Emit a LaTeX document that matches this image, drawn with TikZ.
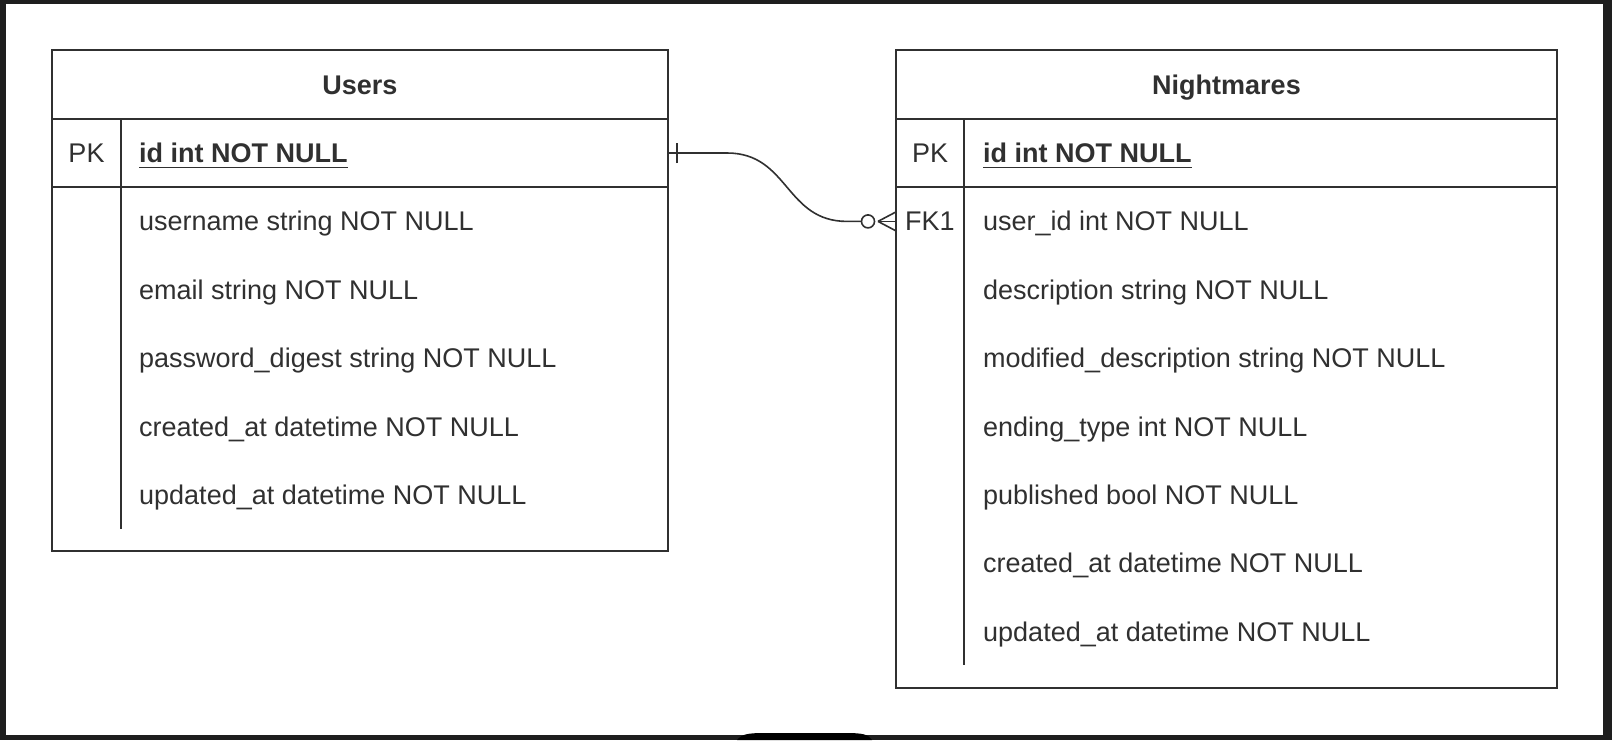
\documentclass[tikz,border=0pt]{standalone}
\usepackage{fontspec}
\setmainfont{Liberation Sans}
\definecolor{frame}{HTML}{1E1E1E}
\definecolor{ink}{HTML}{303030}
\begin{document}
\begin{tikzpicture}[x=1pt,y=-1pt,
  tbl/.style={draw=ink, line width=1.8pt, fill=white, anchor=north west, inner sep=0pt, outer sep=0pt},
  sep/.style={draw=ink, line width=1.8pt},
  fld/.style={anchor=base west, inner sep=0pt, text=ink, font=\fontsize{27}{32}\selectfont},
  keyc/.style={anchor=base, inner sep=0pt, text=ink, font=\fontsize{27}{32}\selectfont},
  ttl/.style={anchor=base, inner sep=0pt, text=ink, font=\fontsize{27}{32}\selectfont\bfseries},
  pkf/.style={fld, font=\fontsize{27}{32}\selectfont\bfseries},
  uline/.style={draw=ink, line width=1.8pt},
  rel/.style={draw=ink, line width=1.6pt}]
\useasboundingbox (0,0) rectangle (1612,740);
% frame
\fill[frame] (0,0) rectangle (1612,740);
\fill[white] (6,4) rectangle (1603,735);
\fill[black] (737,740) .. controls (742,734) and (748,733) .. (765,733) -- (845,733) .. controls (862,733) and (868,734) .. (872,740) -- cycle;

% Users table
\node[tbl, minimum width=616pt, minimum height=501pt] (users) at (52,50) {};
\draw[sep] (52,119) -- (668,119);
\draw[sep] (52,187) -- (668,187);
\draw[sep] (121,119) -- (121,529);
\node[ttl] (utitle) at (360,94.5) {Users};
\node[keyc] (upk) at (86.5,162.5) {PK};
\node[pkf] (uid) at (139,162.5) {id int NOT NULL};
\draw[uline] ([yshift=-5pt]uid.base west) -- ([yshift=-5pt]uid.base east);
\foreach \t [count=\k] in {username string NOT NULL, email string NOT NULL, password\_digest string NOT NULL, created\_at datetime NOT NULL, updated\_at datetime NOT NULL}
  \node[fld] (uf\k) at (139,{162.5+\k*68.4}) {\t};

% Nightmares table
\node[tbl, minimum width=661pt, minimum height=638pt] (night) at (896,50) {};
\draw[sep] (896,119) -- (1557,119);
\draw[sep] (896,187) -- (1557,187);
\draw[sep] (964,119) -- (964,665);
\node[ttl] (ntitle) at (1226.5,94.5) {Nightmares};
\node[keyc] (npk) at (930,162.5) {PK};
\node[pkf] (nid) at (983,162.5) {id int NOT NULL};
\draw[uline] ([yshift=-5pt]nid.base west) -- ([yshift=-5pt]nid.base east);
\node[fld] (nfk) at (905,230.9) {FK1};
\foreach \t [count=\k] in {user\_id int NOT NULL, description string NOT NULL, modified\_description string NOT NULL, ending\_type int NOT NULL, published bool NOT NULL, created\_at datetime NOT NULL, updated\_at datetime NOT NULL}
  \node[fld] (nf\k) at (983,{162.5+\k*68.4}) {\t};

% relationship
\coordinate (ua) at (users.north east |- 0,153);
\coordinate (nb) at (night.north west |- 0,221.4);
\draw[rel] (ua) -- ++(59,0) .. controls +(62,0) and +(-62,0) .. ([xshift=-49pt]nb) -- ([xshift=-34.5pt]nb);
\draw[rel] ([xshift=9pt,yshift=-10pt]ua) -- ([xshift=9pt,yshift=10pt]ua);
\draw[rel, fill=white] ([xshift=-28pt]nb) circle[radius=6.5pt];
\draw[rel] ([xshift=-18pt]nb) -- ([yshift=-9.5pt]nb);
\draw[rel] ([xshift=-18pt]nb) -- (nb);
\draw[rel] ([xshift=-18pt]nb) -- ([yshift=9.5pt]nb);
\end{tikzpicture}
\end{document}
